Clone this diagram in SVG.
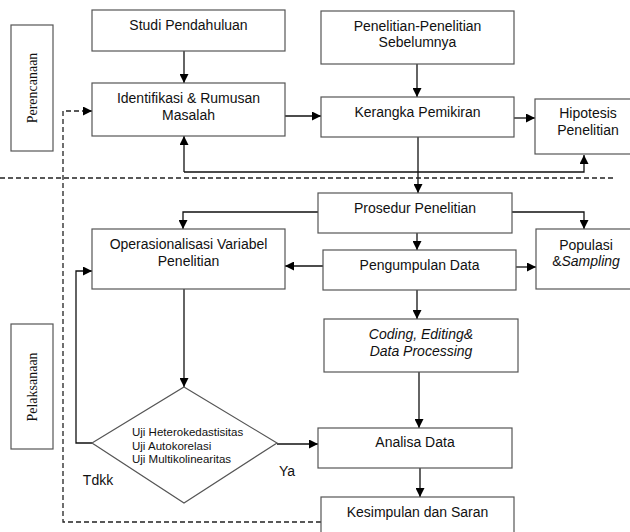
<svg xmlns="http://www.w3.org/2000/svg" width="630" height="532" viewBox="0 0 630 532">
<defs>
<marker id="arr" viewBox="0 0 10 10" refX="10" refY="5" markerUnits="userSpaceOnUse" markerWidth="9" markerHeight="9" orient="auto">
<path d="M0,0 L10,5 L0,10 z" fill="#000"/>
</marker>
<style>
.box{fill:#fff;stroke:#555;stroke-width:1.2}
.t{font-family:"Liberation Sans",Arial,sans-serif;font-size:14px;fill:#111;text-anchor:middle}
.s{font-family:"Liberation Serif","Times New Roman",serif;font-size:14px;fill:#111;text-anchor:middle}
.d{font-family:"Liberation Sans",Arial,sans-serif;font-size:11.5px;fill:#111}
.c{fill:none;stroke:#111;stroke-width:1.3}
.dash{fill:none;stroke:#222;stroke-width:1.3;stroke-dasharray:5,3}
</style>
</defs>
<rect width="630" height="532" fill="#fff"/>

<g id="connectors">
<path class="c" d="M184,51 L184,83" marker-end="url(#arr)"/>
<path class="c" d="M417,64 L417,97" marker-end="url(#arr)"/>
<path class="c" d="M285,116 L321,116" marker-end="url(#arr)"/>
<path class="c" d="M514,118 L535,118" marker-end="url(#arr)"/>
<path class="c" d="M418,137 L418,193" marker-end="url(#arr)"/>
<path class="c" d="M184,172 L184,136" marker-end="url(#arr)"/>
<path class="c" d="M184,172 L584,172 L584,155" marker-end="url(#arr)"/>
<path class="c" d="M318,212 L183,212 L183,229" marker-end="url(#arr)"/>
<path class="c" d="M512,212 L584,212 L584,229" marker-end="url(#arr)"/>
<path class="c" d="M417,233 L417,250" marker-end="url(#arr)"/>
<path class="c" d="M516,267 L536,267" marker-end="url(#arr)"/>
<path class="c" d="M323,266 L285,266" marker-end="url(#arr)"/>
<path class="c" d="M417,290 L417,319" marker-end="url(#arr)"/>
<path class="c" d="M184,289 L184,387" marker-end="url(#arr)"/>
<path class="c" d="M92,443 L76,443 L76,271 L92,271" marker-end="url(#arr)"/>
<path class="c" d="M277,444 L318,444" marker-end="url(#arr)"/>
<path class="c" d="M419,372 L419,428" marker-end="url(#arr)"/>
<path class="c" d="M420,468 L420,497" marker-end="url(#arr)"/>
<path class="dash" d="M321,522 L63,522 L63,111 L92,111" marker-end="url(#arr)"/>
<path class="dash" d="M0,178 L615,178"/>
</g>

<g id="perencanaan">
<rect class="box" x="11" y="25" width="42" height="126"/>
<text class="s" transform="translate(37,88) rotate(-90)">Perencanaan</text>
</g>
<g id="pelaksanaan">
<rect class="box" x="11" y="324" width="42" height="125"/>
<text class="s" transform="translate(37,387) rotate(-90)">Pelaksanaan</text>
</g>

<g id="studi">
<rect class="box" x="92" y="10" width="193" height="41"/>
<text class="t" x="188.5" y="30">Studi Pendahuluan</text>
</g>
<g id="identifikasi">
<rect class="box" x="92" y="83" width="193" height="53"/>
<text class="t" x="188.5" y="103">Identifikasi &amp; Rumusan</text>
<text class="t" x="188.5" y="120">Masalah</text>
</g>
<g id="penelitian">
<rect class="box" x="321" y="11" width="193" height="53"/>
<text class="t" x="417.5" y="31">Penelitian-Penelitian</text>
<text class="t" x="417.5" y="47">Sebelumnya</text>
</g>
<g id="kerangka">
<rect class="box" x="321" y="97" width="193" height="40"/>
<text class="t" x="417.5" y="117">Kerangka Pemikiran</text>
</g>
<g id="hipotesis">
<rect class="box" x="535" y="99" width="106" height="55"/>
<text class="t" x="588" y="118">Hipotesis</text>
<text class="t" x="588" y="135">Penelitian</text>
</g>
<g id="prosedur">
<rect class="box" x="318" y="193" width="194" height="40"/>
<text class="t" x="415" y="213">Prosedur Penelitian</text>
</g>
<g id="operasionalisasi">
<rect class="box" x="92" y="229" width="193" height="60"/>
<text class="t" x="188.5" y="249">Operasionalisasi Variabel</text>
<text class="t" x="188.5" y="266">Penelitian</text>
</g>
<g id="pengumpulan">
<rect class="box" x="323" y="250" width="193" height="40"/>
<text class="t" x="419.5" y="270">Pengumpulan Data</text>
</g>
<g id="populasi">
<rect class="box" x="536" y="229" width="104" height="60"/>
<text class="t" x="586" y="250">Populasi</text>
<text class="t" x="586" y="266">&amp;<tspan font-style="italic">Sampling</tspan></text>
</g>
<g id="coding">
<rect class="box" x="324" y="319" width="194" height="53"/>
<text class="t" x="421" y="339" font-style="italic">Coding, Editing&amp;</text>
<text class="t" x="421" y="356" font-style="italic">Data Processing</text>
</g>
<g id="uji">
<polygon class="box" points="184,387 277,443 184,503 92,443"/>
<text class="d" x="132" y="436">Uji Heterokedastisitas</text>
<text class="d" x="132" y="450">Uji Autokorelasi</text>
<text class="d" x="132" y="463">Uji Multikolinearitas</text>
</g>
<g id="labels">
<text class="t" x="98" y="485">Tdkk</text>
<text class="t" x="287" y="476">Ya</text>
</g>
<g id="analisa">
<rect class="box" x="318" y="428" width="194" height="40"/>
<text class="t" x="415" y="447">Analisa Data</text>
</g>
<g id="kesimpulan">
<rect class="box" x="321" y="497" width="193" height="45"/>
<text class="t" x="417.5" y="517">Kesimpulan dan Saran</text>
</g>
</svg>
